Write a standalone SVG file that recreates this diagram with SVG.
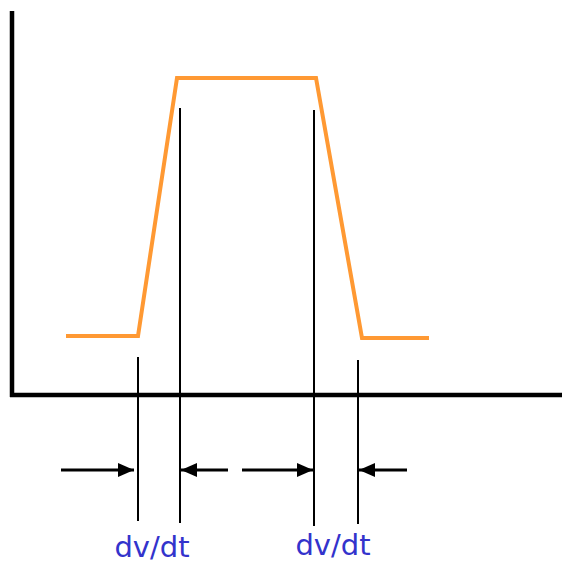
<svg xmlns="http://www.w3.org/2000/svg" width="562" height="564" viewBox="0 0 562 564">
<style>
.axis{stroke:#000;stroke-width:4.5;fill:none}
.guide{stroke:#000;stroke-width:2;fill:none}
.arr{stroke:#000;stroke-width:3;fill:none;marker-end:url(#ah)}
.wave{stroke:#FF9933;stroke-width:4;fill:none;stroke-linejoin:miter}
.lbl{font-family:"DejaVu Sans",Verdana,sans-serif;font-size:29px;fill:#3333CC;text-anchor:middle}
</style>
<defs>
<marker id="ah" viewBox="0 0 16 14" refX="16" refY="7" markerWidth="16" markerHeight="14" markerUnits="userSpaceOnUse" orient="auto">
<path d="M0,0 L16,7 L0,14 Z" fill="#000"/>
</marker>
</defs>
<rect width="562" height="564" fill="#fff"/>
<g id="axes">
<line class="axis" x1="12" y1="11" x2="12" y2="397"/>
<line class="axis" x1="10" y1="395" x2="562" y2="395"/>
</g>
<g id="waveform">
<polyline class="wave" points="66,336 138,336 177,78 316,78 362,338 429,338"/>
</g>
<g id="guides">
<line class="guide" x1="138" y1="357" x2="138" y2="521"/>
<line class="guide" x1="180" y1="108" x2="180" y2="523"/>
<line class="guide" x1="314" y1="110" x2="314" y2="526"/>
<line class="guide" x1="358" y1="360" x2="358" y2="524"/>
</g>
<g id="connectors">
<line class="arr" x1="61" y1="470" x2="134" y2="470"/>
<line class="arr" x1="228" y1="470" x2="181" y2="470"/>
<line class="arr" x1="242" y1="470" x2="313" y2="470"/>
<line class="arr" x1="407" y1="470" x2="359" y2="470"/>
</g>
<g id="label1"><text class="lbl" x="152" y="557">dv/dt</text></g>
<g id="label2"><text class="lbl" x="333" y="555">dv/dt</text></g>
</svg>
